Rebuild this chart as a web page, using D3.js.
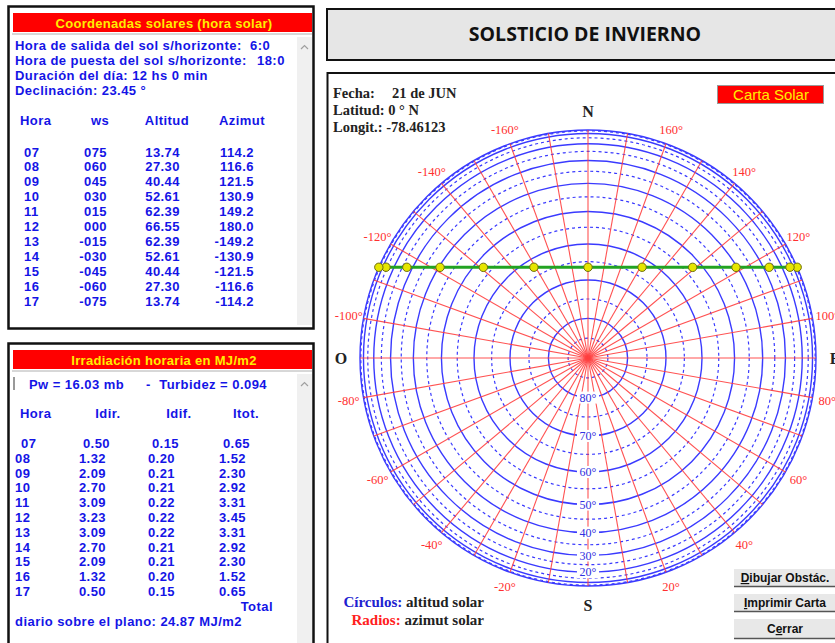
<!DOCTYPE html>
<html><head><meta charset="utf-8">
<script src="https://cdn.jsdelivr.net/npm/d3@7"></script>
<style>html,body{margin:0;padding:0;background:#fff;overflow:hidden}</style>
</head><body><svg id="c" width="835" height="643" xmlns="http://www.w3.org/2000/svg"></svg>
<script>
// ---------------- DATA ----------------
const horas    = ["07","08","09","10","11","12","13","14","15","16","17"];
const wsVals   = ["075","060","045","030","015","000","-015","-030","-045","-060","-075"];
const altitud  = [13.74, 27.30, 40.44, 52.61, 62.39, 66.55, 62.39, 52.61, 40.44, 27.30, 13.74];
const azimut   = [114.2, 116.6, 121.5, 130.9, 149.2, 180.0, -149.2, -130.9, -121.5, -116.6, -114.2];
const idir     = [0.50, 1.32, 2.09, 2.70, 3.09, 3.23, 3.09, 2.70, 2.09, 1.32, 0.50];
const idif     = [0.15, 0.20, 0.21, 0.21, 0.22, 0.22, 0.22, 0.21, 0.21, 0.20, 0.15];
const itot     = [0.65, 1.52, 2.30, 2.92, 3.31, 3.45, 3.31, 2.92, 2.30, 1.52, 0.65];
// sunrise (6:0) and sunset (18:0) on the horizon
const salidaAz = 113.45, salidaAlt = 0;
const puestaAz = -113.45, puestaAlt = 0;
const azTickLabels  = [-160,-140,-120,-100,-80,-60,-40,-20,20,40,60,80,100,120,140,160];
const altTickLabels = [80,70,60,50,40,30,20];
const altSolid  = [0,10,20,30,40,50,60,70,80];
const altDashed = [5,15,25,35,45,55,65,75,85];
const azRays    = d3.range(-180, 180, 10);

// ---------------- SETUP ----------------
const svg = d3.select("#c");
const BLUE = "#1414e6";
const SANS = "'Liberation Sans', Arial, sans-serif";
const SERIF = "'Liberation Serif', 'Times New Roman', serif";

function txt(g, x, y, s, o = {}) {
  const t = g.append("text").attr("x", x).attr("y", y).text(s)
    .attr("font-family", o.ff || SANS)
    .attr("font-size", o.fs || 13)
    .attr("font-weight", o.fw || "bold")
    .attr("fill", o.fill || BLUE)
    .attr("text-anchor", o.anchor || "start");
  if (o.ls !== undefined) t.attr("letter-spacing", o.ls);
  return t;
}
const P = (o = {}) => Object.assign({fs: 13, ls: 0.45}, o);

// ---------------- LEFT PANELS ----------------
function panelFrame(y, h, title) {
  const g = svg.append("g");
  g.append("rect").attr("x", 8.5).attr("y", y + 0.5).attr("width", 305).attr("height", h)
    .attr("fill", "#fff").attr("stroke", "#111").attr("stroke-width", 2.5);
  g.append("rect").attr("x", 13).attr("y", y + 7).attr("width", 299).attr("height", 19).attr("fill", "#ff0000");
  g.append("line").attr("x1", 12).attr("x2", 312).attr("y1", y + 28).attr("y2", y + 28)
    .attr("stroke", "#b0b0b0").attr("stroke-width", 1);
  txt(g, 164, y + 21.5, title, {fill: "#ffee00", fs: 13, ls: 0.3, anchor: "middle"});
  g.append("rect").attr("x", 297).attr("y", y + 31).attr("width", 15).attr("height", h - 34).attr("fill", "#f0f0f0");
  g.append("path").attr("d", `M301,${y + 43} L304.5,${y + 39.5} L308,${y + 43}`)
    .attr("fill", "none").attr("stroke", "#a0a0a0").attr("stroke-width", 1.2);
  return g;
}

const p1 = panelFrame(6, 322, "Coordenadas solares (hora solar)");
txt(p1, 15, 50, "Hora de salida del sol s/horizonte:", P());
txt(p1, 250, 50, "6:0", P());
txt(p1, 15, 65, "Hora de puesta del sol s/horizonte:", P());
txt(p1, 257, 65, "18:0", P());
txt(p1, 15, 80, "Duración del día: 12 hs 0 min", P());
txt(p1, 15, 95, "Declinación: 23.45 °", P());
txt(p1, 20, 125, "Hora", P());
txt(p1, 100, 125, "ws", P({anchor: "middle"}));
txt(p1, 167, 125, "Altitud", P({anchor: "middle"}));
txt(p1, 242, 125, "Azimut", P({anchor: "middle"}));
horas.forEach((h, i) => {
  const y = 156.5 + i * 14.9;
  txt(p1, 24, y, h, P());
  txt(p1, 107, y, wsVals[i], P({anchor: "end"}));
  txt(p1, 180, y, altitud[i].toFixed(2), P({anchor: "end"}));
  txt(p1, 254, y, azimut[i].toFixed(1), P({anchor: "end"}));
});

const p2 = panelFrame(343, 320, "Irradiación horaria en MJ/m2");
p2.append("rect").attr("x", 13).attr("y", 377).attr("width", 2).attr("height", 13).attr("fill", "#999");
txt(p2, 29, 388.5, "Pw = 16.03 mb", P());
txt(p2, 146, 388.5, "-", P());
txt(p2, 267, 388.5, "Turbidez = 0.094", P({anchor: "end"}));
txt(p2, 20, 418, "Hora", P());
txt(p2, 108, 418, "Idir.", P({anchor: "middle"}));
txt(p2, 179, 418, "Idif.", P({anchor: "middle"}));
txt(p2, 246, 418, "Itot.", P({anchor: "middle"}));
horas.forEach((h, i) => {
  const y = 448 + i * 14.8;
  const off = i === 0 ? 4 : 0;
  txt(p2, 15 + (i === 0 ? 6 : 0), y, h, P());
  txt(p2, 106 + off, y, idir[i].toFixed(2), P({anchor: "end"}));
  txt(p2, 175 + off, y, idif[i].toFixed(2), P({anchor: "end"}));
  txt(p2, 246 + off, y, itot[i].toFixed(2), P({anchor: "end"}));
});
txt(p2, 273, 611, "Total", P({anchor: "end"}));
txt(p2, 15, 626, "diario sobre el plano: 24.87 MJ/m2", P());

// ---------------- TITLE BOX ----------------
svg.append("rect").attr("x", 327).attr("y", 9).attr("width", 520).attr("height", 51)
  .attr("fill", "#e6e6e6").attr("stroke", "#111").attr("stroke-width", 2);
txt(svg, 585, 41, "SOLSTICIO DE INVIERNO", {ff: "'Open Sans', Calibri, sans-serif", fs: 19.5, fill: "#111", anchor: "middle"});

// ---------------- CHART PANEL ----------------
svg.append("rect").attr("x", 327.5).attr("y", 73).attr("width", 520).attr("height", 600)
  .attr("fill", "#fff").attr("stroke", "#111").attr("stroke-width", 2);

const cx = 588, cy = 358, R = 228;
const rScale = d3.scaleLinear().domain([0, 1]).range([0, R]);        // orthographic: r = R·cos(alt)
const radius = alt => rScale(Math.cos(alt * Math.PI / 180));
const aScale = d3.scaleLinear().domain([180, -180]).range([0, 2 * Math.PI]);
const pt = (az, alt) => { const p = d3.pointRadial(aScale(az), radius(alt)); return [cx + p[0], cy + p[1]]; };

const chart = svg.append("g");
chart.selectAll("circle.dash").data(altDashed).join("circle")
  .attr("cx", cx).attr("cy", cy).attr("r", d => radius(d))
  .attr("fill", "none").attr("stroke", "#3a3aff").attr("stroke-width", 1.2).attr("stroke-dasharray", "3,3");
chart.selectAll("circle.sol").data(altSolid).join("circle")
  .attr("cx", cx).attr("cy", cy).attr("r", d => radius(d))
  .attr("fill", "none").attr("stroke", "#3a3aff").attr("stroke-width", 1.4);
chart.selectAll("line.ray").data(azRays).join("line")
  .attr("x1", cx).attr("y1", cy)
  .attr("x2", d => pt(d, 0)[0]).attr("y2", d => pt(d, 0)[1])
  .attr("stroke", "#ff4040").attr("stroke-width", 1.1).attr("opacity", 0.9);

const al = chart.selectAll("g.al").data(altTickLabels).join("g")
  .attr("transform", d => `translate(${pt(0, d)[0]},${pt(0, d)[1]})`);
al.append("rect").attr("x", -11).attr("y", -6).attr("width", 22).attr("height", 12).attr("fill", "#fff");
al.append("text").attr("text-anchor", "middle").attr("dy", "0.35em")
  .attr("font-family", SERIF).attr("font-size", 12).attr("fill", "#3030e0")
  .text(d => d + "°");

chart.selectAll("text.az").data(azTickLabels).join("text")
  .attr("x", d => cx + d3.pointRadial(aScale(d), 243)[0])
  .attr("y", d => cy + d3.pointRadial(aScale(d), 243)[1])
  .attr("dy", "0.35em").attr("text-anchor", "middle")
  .attr("font-family", SERIF).attr("font-size", 12.5).attr("fill", "#ff3030")
  .text(d => d + "°");

[["N", 180], ["S", 0], ["E", 90], ["O", -90]].forEach(([s, a]) => {
  const p = d3.pointRadial(aScale(a), 247);
  txt(chart, cx + p[0], cy + p[1], s, {ff: SERIF, fs: 16, fill: "#222", anchor: "middle"}).attr("dy", "0.35em");
});

const pathAz  = [salidaAz, ...azimut, puestaAz];
const pathAlt = [salidaAlt, ...altitud, puestaAlt];
const pts = pathAz.map((a, i) => pt(a, pathAlt[i]));
chart.append("path").attr("d", d3.line()(pts))
  .attr("fill", "none").attr("stroke", "#22a322").attr("stroke-width", 3);
chart.selectAll("circle.sun").data(pts).join("circle")
  .attr("cx", d => d[0]).attr("cy", d => d[1]).attr("r", 4.2)
  .attr("fill", "#e6e600").attr("stroke", "#6b6b10").attr("stroke-width", 1);

txt(svg, 333, 98, "Fecha:", {ff: SERIF, fs: 14.5, fill: "#222"});
txt(svg, 392, 98, "21 de JUN", {ff: SERIF, fs: 14.5, fill: "#222"});
txt(svg, 333, 115, "Latitud: 0 ° N", {ff: SERIF, fs: 14.5, fill: "#222"});
txt(svg, 333, 132, "Longit.: -78.46123", {ff: SERIF, fs: 14.5, fill: "#222"});

svg.append("rect").attr("x", 717.5).attr("y", 85.5).attr("width", 106).attr("height", 18)
  .attr("fill", "#ff0000").attr("stroke", "#999").attr("stroke-width", 1);
txt(svg, 771, 99.5, "Carta Solar", {fs: 15, fw: "normal", fill: "#ffee00", anchor: "middle"});

const lg1 = txt(svg, 484, 607, "", {ff: SERIF, fs: 15, fill: "#222", anchor: "end"});
lg1.append("tspan").attr("fill", "#2020d0").text("Círculos: ");
lg1.append("tspan").text("altitud solar");
const lg2 = txt(svg, 484, 625, "", {ff: SERIF, fs: 15, fill: "#222", anchor: "end"});
lg2.append("tspan").attr("fill", "#ff2020").text("Radios: ");
lg2.append("tspan").text("azimut solar");

function button(y, h, pre, ul, post) {
  const g = svg.append("g");
  g.append("rect").attr("x", 734).attr("y", y).attr("width", 104).attr("height", h).attr("fill", "#e8e8e8");
  g.append("line").attr("x1", 734).attr("x2", 838).attr("y1", y + h - 0.5).attr("y2", y + h - 0.5).attr("stroke", "#555").attr("stroke-width", 1.5);
  g.append("line").attr("x1", 734).attr("x2", 838).attr("y1", y + 0.5).attr("y2", y + 0.5).attr("stroke", "#fff").attr("stroke-width", 1);
  const t = txt(g, 785, y + h / 2 + 4.5, "", {fs: 12, fill: "#111", anchor: "middle"});
  t.append("tspan").text(pre);
  t.append("tspan").attr("text-decoration", "underline").text(ul);
  t.append("tspan").text(post);
}
button(568, 19, "", "D", "ibujar Obstác.");
button(593, 19, "", "I", "mprimir Carta");
button(618, 21, "C", "e", "rrar");
</script></body></html>
